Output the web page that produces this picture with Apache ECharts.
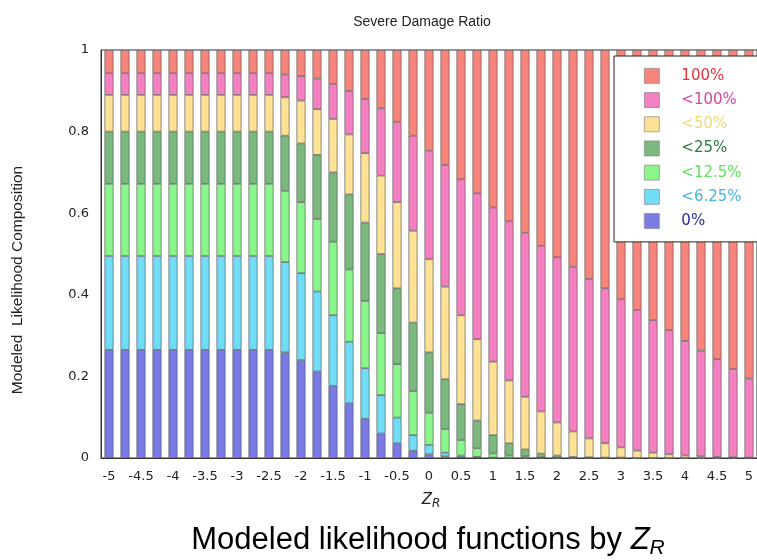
<!DOCTYPE html>
<html>
<head>
<meta charset="utf-8">
<script src="https://cdn.jsdelivr.net/npm/echarts@6/dist/echarts.min.js"></script>
<style>html,body{margin:0;padding:0;background:#fff;}#c{width:757px;height:560px;}</style>
</head>
<body>
<div id="c"></div>
<script>
const categories = ["-5","-4.75","-4.5","-4.25","-4","-3.75","-3.5","-3.25","-3","-2.75","-2.5","-2.25","-2","-1.75","-1.5","-1.25","-1","-0.75","-0.5","-0.25","0","0.25","0.5","0.75","1","1.25","1.5","1.75","2","2.25","2.5","2.75","3","3.25","3.5","3.75","4","4.25","4.5","4.75","5"];

const seriesNames = ["0%","<6.25%","<12.5%","<25%","<50%","<100%","100%"];

const v0 = [0.265,0.265,0.265,0.265,0.265,0.265,0.265,0.265,0.265,0.265,0.265,0.259,0.240,0.212,0.177,0.134,0.096,0.060,0.036,0.018,0.009,0.004,0.002,0.001,0,0,0,0,0,0,0,0,0,0,0,0,0,0,0,0,0];
const v625 = [0.230,0.230,0.230,0.230,0.230,0.230,0.230,0.230,0.230,0.230,0.230,0.221,0.213,0.196,0.173,0.151,0.124,0.094,0.063,0.038,0.023,0.009,0.004,0.002,0.001,0,0,0,0,0,0,0,0,0,0,0,0,0,0,0,0];
const v125 = [0.177,0.177,0.177,0.177,0.177,0.177,0.177,0.177,0.177,0.177,0.177,0.175,0.174,0.178,0.180,0.177,0.165,0.152,0.131,0.108,0.079,0.058,0.038,0.021,0.010,0.006,0.004,0.002,0.001,0,0,0,0,0,0,0,0,0,0,0,0];
const v25 = [0.128,0.128,0.128,0.128,0.128,0.128,0.128,0.128,0.128,0.128,0.128,0.135,0.144,0.157,0.170,0.184,0.192,0.194,0.186,0.168,0.148,0.122,0.088,0.068,0.045,0.030,0.017,0.009,0.005,0.003,0.002,0.001,0.001,0,0,0,0,0,0,0,0];
const v50 = [0.090,0.090,0.090,0.090,0.090,0.090,0.090,0.090,0.090,0.090,0.090,0.094,0.105,0.112,0.131,0.147,0.170,0.192,0.211,0.225,0.228,0.227,0.218,0.199,0.180,0.154,0.129,0.103,0.081,0.062,0.046,0.035,0.025,0.018,0.013,0.009,0.006,0.004,0.003,0.002,0.001];
const v100lt = [0.053,0.053,0.053,0.053,0.053,0.053,0.053,0.053,0.053,0.053,0.053,0.056,0.060,0.075,0.086,0.107,0.133,0.165,0.197,0.233,0.266,0.298,0.333,0.358,0.378,0.390,0.402,0.406,0.405,0.404,0.391,0.380,0.363,0.345,0.325,0.305,0.281,0.259,0.239,0.216,0.194];
const v100 = [0.057,0.057,0.057,0.057,0.057,0.057,0.057,0.057,0.057,0.057,0.057,0.060,0.064,0.070,0.083,0.100,0.120,0.143,0.176,0.210,0.247,0.282,0.317,0.351,0.386,0.420,0.448,0.480,0.508,0.531,0.561,0.584,0.611,0.637,0.662,0.686,0.713,0.737,0.758,0.782,0.805];

const seriesValues = [v0, v625, v125, v25, v50, v100lt, v100];
const barColors = ["#7b7be6","#70dcf6","#8af58a","#7cb981","#fde295","#f47fc1","#f8857b"];
const legendTextColors = ["#2b2b9e","#45b5e6","#62e05a","#2f7a3a","#f5d775","#d9449f","#e4323c"];
const yTicks = [0, 0.2, 0.4, 0.6, 0.8, 1];

const chart = echarts.init(document.getElementById('c'), null, {renderer: 'canvas'});

const series = seriesNames.map((n, i) => ({
  name: n,
  type: 'bar',
  stack: 'all',
  barWidth: 9,
  data: seriesValues[i],
  itemStyle: {color: barColors[i], borderColor: '#5e5e5e', borderWidth: 0.7},
  emphasis: {disabled: true}
}));

const legendData = seriesNames.slice().reverse().map((n) => {
  const i = seriesNames.indexOf(n);
  return {name: n, textStyle: {color: legendTextColors[i]}, itemStyle: {borderColor: '#888', borderWidth: 0.7}};
});

chart.setOption({
  animation: false,
  backgroundColor: '#ffffff',
  grid: {left: 101, top: 50, width: 660, height: 408, show: true, borderColor: '#333', borderWidth: 1, backgroundColor: 'transparent'},
  xAxis: {
    type: 'category',
    data: categories,
    boundaryGap: true,
    axisLine: {show: true, lineStyle: {color: '#333'}},
    axisTick: {show: false},
    axisLabel: {interval: 1, margin: 12, color: '#222', fontFamily: 'DejaVu Sans', fontSize: 13}
  },
  yAxis: {
    type: 'value',
    min: 0, max: 1, interval: 0.2,
    axisLine: {show: true, lineStyle: {color: '#333'}},
    axisTick: {show: false},
    splitLine: {show: false},
    axisLabel: {margin: 12, color: '#222', fontFamily: 'DejaVu Sans', fontSize: 13,
      formatter: (v) => { const t = yTicks.find(x => Math.abs(x - v) < 1e-9); return String(t !== undefined ? t : v); }}
  },
  legend: {
    orient: 'vertical',
    left: 614, top: 56,
    padding: [12, 24, 13, 30],
    itemWidth: 15, itemHeight: 15, itemGap: 8.5,
    backgroundColor: '#ffffff',
    borderColor: '#222', borderWidth: 1,
    selectedMode: false,
    icon: 'rect',
    textStyle: {fontFamily: 'DejaVu Sans', fontSize: 15, lineHeight: 15, padding: [0, 0, 0, 17]},
    data: legendData
  },
  graphic: [
    {type: 'text', x: 422, y: 22, style: {text: 'Severe Damage Ratio', font: '14px "Liberation Sans", Arial, sans-serif', fill: '#222', align: 'center', verticalAlign: 'middle', textAlign: 'center', textVerticalAlign: 'middle'}},
    {type: 'text', x: 18, y: 280, rotation: Math.PI / 2, style: {text: 'Modeled  Likelihood Composition', font: '15.5px "Liberation Sans", Arial, sans-serif', fill: '#222', align: 'center', verticalAlign: 'middle', textAlign: 'center', textVerticalAlign: 'middle'}},
    {type: 'text', x: 431, y: 500, style: {
      text: '{z|Z}{r|R}', align: 'center', verticalAlign: 'middle', textAlign: 'center', textVerticalAlign: 'middle',
      rich: {
        z: {fontFamily: 'DejaVu Sans', fontSize: 15, fontStyle: 'italic', fill: '#222', color: '#222', lineHeight: 20, verticalAlign: 'middle'},
        r: {fontFamily: 'DejaVu Sans', fontSize: 12, fontStyle: 'italic', fill: '#222', color: '#222', lineHeight: 20, verticalAlign: 'bottom', padding: [3, 0, 0, 0]}
      }}},
    {type: 'text', x: 428, y: 540, style: {
      text: '{a|Modeled likelihood functions by }{z|Z}{r|R}', align: 'center', verticalAlign: 'middle', textAlign: 'center', textVerticalAlign: 'middle',
      rich: {
        a: {fontFamily: '"Liberation Sans", Arial', fontSize: 31, fill: '#000', color: '#000', lineHeight: 38, verticalAlign: 'middle'},
        z: {fontFamily: '"Liberation Sans", Arial', fontSize: 31, fontStyle: 'italic', fill: '#000', color: '#000', lineHeight: 38, verticalAlign: 'middle'},
        r: {fontFamily: '"Liberation Sans", Arial', fontSize: 21, fontStyle: 'italic', fill: '#000', color: '#000', lineHeight: 38, verticalAlign: 'bottom', padding: [14, 0, 0, 0]}
      }}}
  ],
  series: series
});
</script>
</body>
</html>
